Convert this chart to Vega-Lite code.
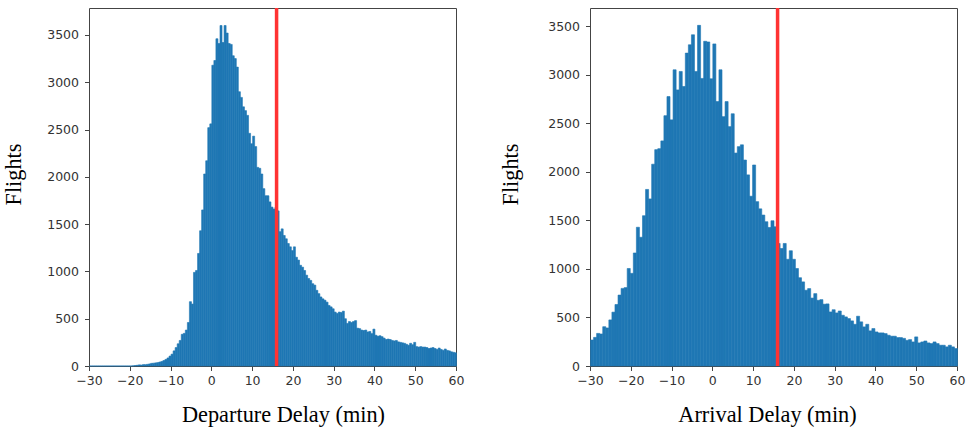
{
 "$schema": "https://vega.github.io/schema/vega-lite/v6.json",
 "background": "white",
 "padding": {"left": 2, "top": 5, "right": 5, "bottom": 5},
 "bounds": "flush",
 "spacing": 134,
 "config": {
  "view": {"stroke": "#444", "strokeWidth": 1},
  "axis": {"grid": false, "domain": false, "tickColor": "#444", "tickSize": 4.5, "tickWidth": 1, "labelFlush": false,
   "labelFont": "DejaVu Sans", "labelFontSize": 12.5, "labelColor": "#333", "labelPadding": 4,
   "titleFont": "Liberation Serif", "titleFontSize": 22.3, "titleFontWeight": "normal", "titleColor": "#000"},
  "axisY": {"labelPadding": 6}
 },
 "datasets": {
  "dep": [
   {"a":-30,"b":-29.5,"n":0},{"a":-29.5,"b":-29,"n":0},{"a":-29,"b":-28.5,"n":0},{"a":-28.5,"b":-28,"n":0},{"a":-28,"b":-27.5,"n":0},{"a":-27.5,"b":-27,"n":0},{"a":-27,"b":-26.5,"n":0},{"a":-26.5,"b":-26,"n":0},{"a":-26,"b":-25.5,"n":0},{"a":-25.5,"b":-25,"n":0},
   {"a":-25,"b":-24.5,"n":0},{"a":-24.5,"b":-24,"n":0},{"a":-24,"b":-23.5,"n":0},{"a":-23.5,"b":-23,"n":0},{"a":-23,"b":-22.5,"n":0},{"a":-22.5,"b":-22,"n":0},{"a":-22,"b":-21.5,"n":0},{"a":-21.5,"b":-21,"n":0},{"a":-21,"b":-20.5,"n":0},{"a":-20.5,"b":-20,"n":0},
   {"a":-20,"b":-19.5,"n":0},{"a":-19.5,"b":-19,"n":2},{"a":-19,"b":-18.5,"n":5},{"a":-18.5,"b":-18,"n":8},{"a":-18,"b":-17.5,"n":12},{"a":-17.5,"b":-17,"n":10},{"a":-17,"b":-16.5,"n":15},{"a":-16.5,"b":-16,"n":14},{"a":-16,"b":-15.5,"n":18},{"a":-15.5,"b":-15,"n":22},
   {"a":-15,"b":-14.5,"n":28},{"a":-14.5,"b":-14,"n":30},{"a":-14,"b":-13.5,"n":33},{"a":-13.5,"b":-13,"n":36},{"a":-13,"b":-12.5,"n":42},{"a":-12.5,"b":-12,"n":48},{"a":-12,"b":-11.5,"n":58},{"a":-11.5,"b":-11,"n":70},{"a":-11,"b":-10.5,"n":85},{"a":-10.5,"b":-10,"n":105},
   {"a":-10,"b":-9.5,"n":125},{"a":-9.5,"b":-9,"n":160},{"a":-9,"b":-8.5,"n":195},{"a":-8.5,"b":-8,"n":235},{"a":-8,"b":-7.5,"n":270},{"a":-7.5,"b":-7,"n":335},{"a":-7,"b":-6.5,"n":345},{"a":-6.5,"b":-6,"n":380},{"a":-6,"b":-5.5,"n":460},{"a":-5.5,"b":-5,"n":680},
   {"a":-5,"b":-4.5,"n":655},{"a":-4.5,"b":-4,"n":990},{"a":-4,"b":-3.5,"n":1010},{"a":-3.5,"b":-3,"n":1190},{"a":-3,"b":-2.5,"n":1430},{"a":-2.5,"b":-2,"n":1650},{"a":-2,"b":-1.5,"n":2030},{"a":-1.5,"b":-1,"n":2170},{"a":-1,"b":-0.5,"n":2520},{"a":-0.5,"b":0,"n":2560},
   {"a":0,"b":0.5,"n":3180},{"a":0.5,"b":1,"n":3230},{"a":1,"b":1.5,"n":3460},{"a":1.5,"b":2,"n":3410},{"a":2,"b":2.5,"n":3600},{"a":2.5,"b":3,"n":3420},{"a":3,"b":3.5,"n":3600},{"a":3.5,"b":4,"n":3520},{"a":4,"b":4.5,"n":3410},{"a":4.5,"b":5,"n":3400},
   {"a":5,"b":5.5,"n":3280},{"a":5.5,"b":6,"n":3250},{"a":6,"b":6.5,"n":3160},{"a":6.5,"b":7,"n":2900},{"a":7,"b":7.5,"n":2840},{"a":7.5,"b":8,"n":2740},{"a":8,"b":8.5,"n":2700},{"a":8.5,"b":9,"n":2650},{"a":9,"b":9.5,"n":2460},{"a":9.5,"b":10,"n":2350},
   {"a":10,"b":10.5,"n":2430},{"a":10.5,"b":11,"n":2320},{"a":11,"b":11.5,"n":2100},{"a":11.5,"b":12,"n":2090},{"a":12,"b":12.5,"n":2030},{"a":12.5,"b":13,"n":1875},{"a":13,"b":13.5,"n":1800},{"a":13.5,"b":14,"n":1800},{"a":14,"b":14.5,"n":1735},{"a":14.5,"b":15,"n":1680},
   {"a":15,"b":15.5,"n":1660},{"a":15.5,"b":16,"n":1680},{"a":16,"b":16.5,"n":1640},{"a":16.5,"b":17,"n":1420},{"a":17,"b":17.5,"n":1450},{"a":17.5,"b":18,"n":1380},{"a":18,"b":18.5,"n":1345},{"a":18.5,"b":19,"n":1295},{"a":19,"b":19.5,"n":1260},{"a":19.5,"b":20,"n":1220},
   {"a":20,"b":20.5,"n":1260},{"a":20.5,"b":21,"n":1150},{"a":21,"b":21.5,"n":1120},{"a":21.5,"b":22,"n":1065},{"a":22,"b":22.5,"n":1045},{"a":22.5,"b":23,"n":1010},{"a":23,"b":23.5,"n":960},{"a":23.5,"b":24,"n":925},{"a":24,"b":24.5,"n":905},{"a":24.5,"b":25,"n":870},
   {"a":25,"b":25.5,"n":855},{"a":25.5,"b":26,"n":800},{"a":26,"b":26.5,"n":765},{"a":26.5,"b":27,"n":730},{"a":27,"b":27.5,"n":710},{"a":27.5,"b":28,"n":695},{"a":28,"b":28.5,"n":675},{"a":28.5,"b":29,"n":640},{"a":29,"b":29.5,"n":625},{"a":29.5,"b":30,"n":605},
   {"a":30,"b":30.5,"n":570},{"a":30.5,"b":31,"n":555},{"a":31,"b":31.5,"n":570},{"a":31.5,"b":32,"n":565},{"a":32,"b":32.5,"n":580},{"a":32.5,"b":33,"n":500},{"a":33,"b":33.5,"n":450},{"a":33.5,"b":34,"n":470},{"a":34,"b":34.5,"n":460},{"a":34.5,"b":35,"n":470},
   {"a":35,"b":35.5,"n":480},{"a":35.5,"b":36,"n":400},{"a":36,"b":36.5,"n":395},{"a":36.5,"b":37,"n":380},{"a":37,"b":37.5,"n":375},{"a":37.5,"b":38,"n":380},{"a":38,"b":38.5,"n":360},{"a":38.5,"b":39,"n":365},{"a":39,"b":39.5,"n":342},{"a":39.5,"b":40,"n":390},
   {"a":40,"b":40.5,"n":325},{"a":40.5,"b":41,"n":315},{"a":41,"b":41.5,"n":320},{"a":41.5,"b":42,"n":310},{"a":42,"b":42.5,"n":295},{"a":42.5,"b":43,"n":280},{"a":43,"b":43.5,"n":285},{"a":43.5,"b":44,"n":280},{"a":44,"b":44.5,"n":270},{"a":44.5,"b":45,"n":265},
   {"a":45,"b":45.5,"n":270},{"a":45.5,"b":46,"n":255},{"a":46,"b":46.5,"n":250},{"a":46.5,"b":47,"n":245},{"a":47,"b":47.5,"n":240},{"a":47.5,"b":48,"n":230},{"a":48,"b":48.5,"n":220},{"a":48.5,"b":49,"n":240},{"a":49,"b":49.5,"n":225},{"a":49.5,"b":50,"n":250},
   {"a":50,"b":50.5,"n":205},{"a":50.5,"b":51,"n":200},{"a":51,"b":51.5,"n":205},{"a":51.5,"b":52,"n":200},{"a":52,"b":52.5,"n":200},{"a":52.5,"b":53,"n":195},{"a":53,"b":53.5,"n":185},{"a":53.5,"b":54,"n":190},{"a":54,"b":54.5,"n":195},{"a":54.5,"b":55,"n":185},
   {"a":55,"b":55.5,"n":175},{"a":55.5,"b":56,"n":190},{"a":56,"b":56.5,"n":175},{"a":56.5,"b":57,"n":165},{"a":57,"b":57.5,"n":180},{"a":57.5,"b":58,"n":165},{"a":58,"b":58.5,"n":160},{"a":58.5,"b":59,"n":150},{"a":59,"b":59.5,"n":145},{"a":59.5,"b":60,"n":140}
  ],
  "arr": [
   {"a":-30,"b":-29.25,"n":268},{"a":-29.25,"b":-28.5,"n":295},{"a":-28.5,"b":-27.75,"n":336},{"a":-27.75,"b":-27,"n":330},{"a":-27,"b":-26.25,"n":405},{"a":-26.25,"b":-25.5,"n":392},{"a":-25.5,"b":-24.75,"n":475},{"a":-24.75,"b":-24,"n":555},{"a":-24,"b":-23.25,"n":634},{"a":-23.25,"b":-22.5,"n":731},
   {"a":-22.5,"b":-21.75,"n":800},{"a":-21.75,"b":-21,"n":808},{"a":-21,"b":-20.25,"n":1005},{"a":-20.25,"b":-19.5,"n":955},{"a":-19.5,"b":-18.75,"n":1165},{"a":-18.75,"b":-18,"n":1430},{"a":-18,"b":-17.25,"n":1327},{"a":-17.25,"b":-16.5,"n":1549},{"a":-16.5,"b":-15.75,"n":1820},{"a":-15.75,"b":-15,"n":1722},
   {"a":-15,"b":-14.25,"n":2080},{"a":-14.25,"b":-13.5,"n":2230},{"a":-13.5,"b":-12.75,"n":2240},{"a":-12.75,"b":-12,"n":2320},{"a":-12,"b":-11.25,"n":2580},{"a":-11.25,"b":-10.5,"n":2777},{"a":-10.5,"b":-9.75,"n":2537},{"a":-9.75,"b":-9,"n":3053},{"a":-9,"b":-8.25,"n":2846},{"a":-8.25,"b":-7.5,"n":3036},
   {"a":-7.5,"b":-6.75,"n":2881},{"a":-6.75,"b":-6,"n":3225},{"a":-6,"b":-5.25,"n":3311},{"a":-5.25,"b":-4.5,"n":3414},{"a":-4.5,"b":-3.75,"n":3036},{"a":-3.75,"b":-3,"n":3511},{"a":-3,"b":-2.25,"n":2964},{"a":-2.25,"b":-1.5,"n":3347},{"a":-1.5,"b":-0.75,"n":3340},{"a":-0.75,"b":0,"n":2960},
   {"a":0,"b":0.75,"n":3320},{"a":0.75,"b":1.5,"n":2725},{"a":1.5,"b":2.25,"n":3053},{"a":2.25,"b":3,"n":2570},{"a":3,"b":3.75,"n":2725},{"a":3.75,"b":4.5,"n":2467},{"a":4.5,"b":5.25,"n":2600},{"a":5.25,"b":6,"n":2195},{"a":6,"b":6.75,"n":2261},{"a":6.75,"b":7.5,"n":2280},
   {"a":7.5,"b":8.25,"n":2123},{"a":8.25,"b":9,"n":1970},{"a":9,"b":9.75,"n":1750},{"a":9.75,"b":10.5,"n":2072},{"a":10.5,"b":11.25,"n":1694},{"a":11.25,"b":12,"n":1620},{"a":12,"b":12.75,"n":1556},{"a":12.75,"b":13.5,"n":1487},{"a":13.5,"b":14.25,"n":1428},{"a":14.25,"b":15,"n":1497},
   {"a":15,"b":15.75,"n":1435},{"a":15.75,"b":16.5,"n":1263},{"a":16.5,"b":17.25,"n":1211},{"a":17.25,"b":18,"n":1263},{"a":18,"b":18.75,"n":1100},{"a":18.75,"b":19.5,"n":1188},{"a":19.5,"b":20.25,"n":1100},{"a":20.25,"b":21,"n":1005},{"a":21,"b":21.75,"n":910},{"a":21.75,"b":22.5,"n":867},
   {"a":22.5,"b":23.25,"n":781},{"a":23.25,"b":24,"n":798},{"a":24,"b":24.75,"n":700},{"a":24.75,"b":25.5,"n":746},{"a":25.5,"b":26.25,"n":677},{"a":26.25,"b":27,"n":684},{"a":27,"b":27.75,"n":637},{"a":27.75,"b":28.5,"n":640},{"a":28.5,"b":29.25,"n":557},{"a":29.25,"b":30,"n":580},
   {"a":30,"b":30.75,"n":547},{"a":30.75,"b":31.5,"n":567},{"a":31.5,"b":32.25,"n":523},{"a":32.25,"b":33,"n":506},{"a":33,"b":33.75,"n":489},{"a":33.75,"b":34.5,"n":465},{"a":34.5,"b":35.25,"n":430},{"a":35.25,"b":36,"n":513},{"a":36,"b":36.75,"n":455},{"a":36.75,"b":37.5,"n":403},
   {"a":37.5,"b":38.25,"n":430},{"a":38.25,"b":39,"n":362},{"a":39,"b":39.75,"n":386},{"a":39.75,"b":40.5,"n":351},{"a":40.5,"b":41.25,"n":341},{"a":41.25,"b":42,"n":341},{"a":42,"b":42.75,"n":334},{"a":42.75,"b":43.5,"n":317},{"a":43.5,"b":44.25,"n":307},{"a":44.25,"b":45,"n":307},
   {"a":45,"b":45.75,"n":293},{"a":45.75,"b":46.5,"n":293},{"a":46.5,"b":47.25,"n":285},{"a":47.25,"b":48,"n":265},{"a":48,"b":48.75,"n":272},{"a":48.75,"b":49.5,"n":248},{"a":49.5,"b":50.25,"n":300},{"a":50.25,"b":51,"n":238},{"a":51,"b":51.75,"n":248},{"a":51.75,"b":52.5,"n":258},
   {"a":52.5,"b":53.25,"n":238},{"a":53.25,"b":54,"n":231},{"a":54,"b":54.75,"n":248},{"a":54.75,"b":55.5,"n":231},{"a":55.5,"b":56.25,"n":214},{"a":56.25,"b":57,"n":214},{"a":57,"b":57.75,"n":197},{"a":57.75,"b":58.5,"n":214},{"a":58.5,"b":59.25,"n":197},{"a":59.25,"b":60,"n":180}
  ],
  "cut": [{"x": 16}]
 },
 "hconcat": [
  {
   "width": 367, "height": 358,
   "layer": [
    {
     "data": {"name": "dep"},
     "mark": {"type": "bar", "binSpacing": 0, "color": "#1f77b4", "stroke": "#1f77b4", "strokeWidth": 0.6},
     "encoding": {
      "x": {"field": "a", "type": "quantitative", "bin": "binned",
       "scale": {"domain": [-30, 60], "nice": false, "zero": false},
       "axis": {"values": [-30,-20,-10,0,10,20,30,40,50,60], "format": "d", "title": "Departure Delay (min)", "titlePadding": 16, "titleX": 194}},
      "x2": {"field": "b"},
      "y": {"field": "n", "type": "quantitative",
       "scale": {"domain": [0, 3785], "nice": false},
       "axis": {"values": [0,500,1000,1500,2000,2500,3000,3500], "format": "d", "title": "Flights", "titlePadding": 21, "titleY": 166}}
     }
    },
    {
     "data": {"name": "cut"},
     "mark": {"type": "rule", "color": "#ff3333", "strokeWidth": 3.5},
     "encoding": {"x": {"field": "x", "type": "quantitative"}}
    }
   ]
  },
  {
   "width": 367, "height": 358,
   "layer": [
    {
     "data": {"name": "arr"},
     "mark": {"type": "bar", "binSpacing": 0, "color": "#1f77b4", "stroke": "#1f77b4", "strokeWidth": 0.6},
     "encoding": {
      "x": {"field": "a", "type": "quantitative", "bin": "binned",
       "scale": {"domain": [-30, 60], "nice": false, "zero": false},
       "axis": {"values": [-30,-20,-10,0,10,20,30,40,50,60], "format": "d", "title": "Arrival Delay (min)", "titlePadding": 16, "titleX": 177}},
      "x2": {"field": "b"},
      "y": {"field": "n", "type": "quantitative",
       "scale": {"domain": [0, 3690], "nice": false},
       "axis": {"values": [0,500,1000,1500,2000,2500,3000,3500], "format": "d", "title": "Flights", "titlePadding": 25, "titleY": 166}}
     }
    },
    {
     "data": {"name": "cut"},
     "mark": {"type": "rule", "color": "#ff3333", "strokeWidth": 3.5},
     "encoding": {"x": {"field": "x", "type": "quantitative"}}
    }
   ]
  }
 ]
}
